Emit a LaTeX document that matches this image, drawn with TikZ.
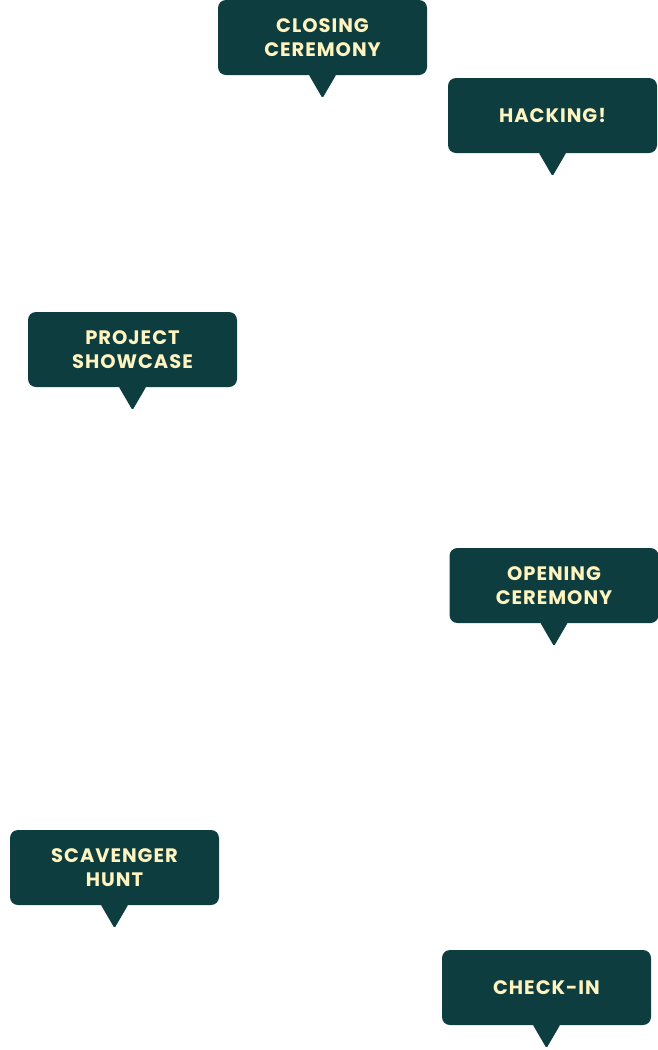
\documentclass[tikz,border=0pt]{standalone}
\usepackage{fontspec}
\setmainfont{Poppins}[LetterSpace=5]
\usetikzlibrary{calc}

\definecolor{teal}{HTML}{0E3D3F}
\definecolor{cream}{HTML}{FFF4BF}

\tikzset{
    bubble/.style={fill=teal, text=cream, rounded corners=8pt,
        minimum width=209pt, minimum height=75pt, align=center,
        font=\fontsize{19.5}{24}\selectfont\bfseries, inner sep=0pt},
    tail/.style={fill=teal, rounded corners=1.5pt}
}

\begin{document}
\begin{tikzpicture}[x=1pt,y=-1pt]
    \useasboundingbox (0,0) rectangle (658,1050);
    \node[bubble] (closing)  at (322.5,37.5)  {CLOSING\\CEREMONY};
    \node[bubble] (hacking)  at (552.5,115.5) {HACKING!};
    \node[bubble] (showcase) at (132.5,349.5) {PROJECT\\SHOWCASE};
    \node[bubble] (opening)  at (554,585.5)   {OPENING\\CEREMONY};
    \node[bubble] (hunt)     at (114.5,867.5) {SCAVENGER\\HUNT};
    \node[bubble] (checkin)  at (546.5,987.5) {CHECK-IN};
    % tails under each bubble
    \foreach \b in {closing,hacking,showcase,opening,hunt,checkin}
        \fill[tail] ($(\b.south)+(-14,-1)$) -- ($(\b.south)+(0,23)$)
            -- ($(\b.south)+(14,-1)$) -- cycle;
\end{tikzpicture}
\end{document}
